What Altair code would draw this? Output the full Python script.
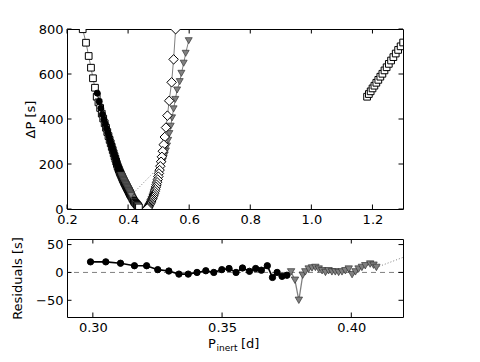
import altair as alt
import pandas as pd

# ---------------- data ----------------
# open squares, left branch
sq_P = [0.2514, 0.2622, 0.2710, 0.2785, 0.2850, 0.2916, 0.2972, 0.3030, 0.3085, 0.3137,
        0.3186, 0.3233, 0.3277, 0.3319, 0.3358, 0.3396, 0.3431, 0.3465, 0.3497, 0.3527,
        0.3556, 0.3583, 0.3609, 0.3633, 0.3656, 0.3678, 0.3699, 0.3719, 0.3738, 0.3757,
        0.3775, 0.3792, 0.3809, 0.3825, 0.3840, 0.3855, 0.3870, 0.3884, 0.3898, 0.3911,
        0.3924, 0.3936, 0.3948, 0.3960, 0.3971, 0.3982, 0.3993, 0.4003, 0.4013, 0.4023,
        0.4032, 0.4041, 0.4050, 0.4059, 0.4067, 0.4075, 0.4083, 0.4097, 0.4116, 0.4140,
        0.4165, 0.4190, 0.4215, 0.4240, 0.4265, 0.4290, 0.4310, 0.4332, 0.4355]
sq_dP = [799, 739, 680, 628, 581, 539, 499, 474, 449, 424,
         402, 381, 361, 342, 324, 307, 292, 276, 262, 248,
         235, 223, 211, 200, 190, 182, 175, 168, 161, 156,
         150, 145, 139, 134, 130, 126, 121, 117, 114, 110,
         107, 103, 100, 97, 94, 91, 88, 86, 83, 80,
         78, 75, 73, 70, 68, 66, 64, 60, 55, 48,
         42, 36, 31, 27, 23, 19, 16, 12, 7]
# open squares, right branch
sqr_P = [1.1824, 1.1882, 1.1941, 1.2002, 1.2064, 1.2127, 1.2192, 1.2258, 1.2325,
         1.2394, 1.2464, 1.2536, 1.2610, 1.2685, 1.2762, 1.2841, 1.2922, 1.3005]
sqr_dP = [499, 511, 523, 536, 548, 561, 574, 588, 601,
          616, 630, 645, 660, 675, 691, 707, 723, 740]

# filled circles
ci_P = [0.2991, 0.3050, 0.3107, 0.3161, 0.3208, 0.3251, 0.3294, 0.3333, 0.3369, 0.3403,
        0.3437, 0.3468, 0.3499, 0.3527, 0.3554, 0.3579, 0.3606, 0.3630, 0.3652, 0.3675,
        0.3695, 0.3713, 0.3732, 0.3751]
ci_dP = [515, 478, 448, 421, 399, 379, 359, 341, 325, 309,
         294, 280, 266, 253, 241, 230, 218, 207, 198, 189,
         181, 175, 168, 162]
ci_res = [19, 19, 16.5, 12, 12, 5, 2.5, -3, -3, 0,
          3, 0, 5, 7, 0, 8, 2, 7, 4, 12,
          -9, 0, -7, -5]

# grey triangles, first sequence
tr_P = [0.3767, 0.3782, 0.3797, 0.3812, 0.3822, 0.3835, 0.3848, 0.3861, 0.3874, 0.3887,
        0.3900, 0.3912, 0.3925, 0.3938, 0.3951, 0.3964, 0.3977, 0.3990, 0.4003, 0.4016,
        0.4028, 0.4041, 0.4054, 0.4073, 0.4086, 0.4097]
tr_dP = [150, 145, 141, 137, 134, 131, 127, 124, 120, 117,
         113, 110, 107, 103, 100, 96, 93, 89, 86, 82,
         79, 75, 72, 67, 63, 60]
tr_res = [1, -14, -50, -5, 1, 6, 8, 9, 6, 3,
          0, 3, 1, 1, 0, 1, 3, 6, -4, 1,
          6, 9, 12, 15, 13, 9]
# grey triangles, second sequence
tr2_P = [0.5105, 0.5135, 0.5165, 0.5200, 0.5238, 0.5275, 0.5312, 0.5352, 0.5395,
         0.5440, 0.5490, 0.5545, 0.5605, 0.5690, 0.5745, 0.5820, 0.5885, 0.5985]
tr2_dP = [200, 212, 226, 240, 258, 280, 305, 335, 368,
          405, 445, 487, 529, 566, 603, 648, 692, 748]
# dotted link across the gap between the two triangle sequences
gap_P = [0.4097, 0.5105]
gap_dP = [60, 200]
gap_res = [9, 185]

# open diamonds
di_P = [0.5556, 0.5490, 0.5425, 0.5345, 0.5287, 0.5240, 0.5200, 0.5166, 0.5135, 0.5107,
        0.5080, 0.5055, 0.5032, 0.5010, 0.4990, 0.4970, 0.4950, 0.4931, 0.4912, 0.4893,
        0.4874, 0.4855, 0.4836, 0.4817, 0.4798, 0.4779, 0.4760, 0.4741, 0.4722, 0.4704,
        0.4687, 0.4671, 0.4656, 0.4642, 0.4630]
di_dP = [799, 665, 563, 481, 415, 362, 320, 286, 257, 232,
         210, 190, 173, 158, 144, 131, 119, 108, 98, 88,
         79, 70, 62, 55, 48, 42, 36, 30, 25, 20,
         16, 12, 8, 5, 2]

top_xticks = [0.2, 0.4, 0.6, 0.8, 1.0, 1.2]
top_yticks = [0, 200, 400, 600, 800]
bot_xticks = [0.30, 0.35, 0.40]
bot_yticks = [-50, 0, 50]
zero_line = [0]
xtitle_main = ["P"]
xtitle_sub = ["inert"]
xtitle_unit = ["[d]"]

# ---------------- tables ----------------
squares = pd.DataFrame({
    "P": sq_P + sqr_P, "dP": sq_dP + sqr_dP,
    "branch": ["left"] * len(sq_P) + ["right"] * len(sqr_P)})
circles = pd.DataFrame({"P": ci_P, "dP": ci_dP, "res": ci_res})
tri = pd.DataFrame({
    "P": tr_P + tr2_P, "dP": tr_dP + tr2_dP,
    "seq": ["a"] * len(tr_P) + ["b"] * len(tr2_P)})
tri_res = pd.DataFrame({"P": tr_P, "res": tr_res})
gap = pd.DataFrame({"P": gap_P, "dP": gap_dP, "res": gap_res})
diamonds = pd.DataFrame({"P": di_P, "dP": di_dP})

W = 336
H_TOP = 180
H_BOT = 78
TICK = 4.5
GREY = "#808080"
FONT = "DejaVu Sans"

# ---------------- top panel ----------------
xt = alt.X("P:Q", scale=alt.Scale(domain=[0.2, 1.3], nice=False, zero=False),
           axis=alt.Axis(values=top_xticks, format=".1f", title=None))
yt = alt.Y("dP:Q", scale=alt.Scale(domain=[0, 800], nice=False, zero=False),
           axis=alt.Axis(values=top_yticks, format="d", title="ΔP [s]", titlePadding=1))

txd = pd.DataFrame({"P": top_xticks})
tyd = pd.DataFrame({"dP": top_yticks})
top_ticks = [
    alt.Chart(txd).mark_rule(color="black", strokeWidth=1).encode(
        x=xt, y=alt.value(H_TOP), y2=alt.value(H_TOP - TICK)),
    alt.Chart(txd).mark_rule(color="black", strokeWidth=1).encode(
        x=xt, y=alt.value(0), y2=alt.value(TICK)),
    alt.Chart(tyd).mark_rule(color="black", strokeWidth=1).encode(
        y=yt, x=alt.value(0), x2=alt.value(TICK)),
    alt.Chart(tyd).mark_rule(color="black", strokeWidth=1).encode(
        y=yt, x=alt.value(W), x2=alt.value(W - TICK)),
]

sq_line = alt.Chart(squares).mark_line(color=GREY, strokeWidth=1, clip=True).encode(
    x=xt, y=yt, detail="branch:N", order="P:Q")
sq_pts = alt.Chart(squares).mark_point(
    shape="square", size=45, filled=True, fill="white", stroke="black",
    strokeWidth=1, opacity=1, clip=True).encode(x=xt, y=yt)
ci_line = alt.Chart(circles).mark_line(color="black", strokeWidth=1, clip=True).encode(
    x=xt, y=yt, order="P:Q")
ci_pts = alt.Chart(circles).mark_point(
    shape="circle", size=36, filled=True, fill="black", stroke="black",
    strokeWidth=1, opacity=1, clip=True).encode(x=xt, y=yt)
tr_line = alt.Chart(tri).mark_line(color=GREY, strokeWidth=1, clip=True).encode(
    x=xt, y=yt, detail="seq:N", order="P:Q")
gap_line = alt.Chart(gap).mark_line(color=GREY, strokeWidth=1, strokeDash=[1, 2],
                                    clip=True).encode(x=xt, y=yt)
tr_pts = alt.Chart(tri).mark_point(
    shape="triangle-down", size=49, filled=True, fill=GREY, stroke="#333333",
    strokeWidth=0.7, opacity=1, clip=True).encode(x=xt, y=yt)
di_line = alt.Chart(diamonds).mark_line(color=GREY, strokeWidth=1, clip=True).encode(
    x=xt, y=yt, order="P:Q")
di_pts = alt.Chart(diamonds).mark_point(
    shape="diamond", size=90, filled=True, fill="white", stroke="black",
    strokeWidth=1, opacity=1, clip=True).encode(x=xt, y=yt)

top = alt.layer(
    sq_line, sq_pts, ci_line, ci_pts, tr_line, gap_line, tr_pts, di_line, di_pts,
    *top_ticks
).properties(width=W, height=H_TOP)

# ---------------- bottom panel ----------------
xb = alt.X("P:Q", scale=alt.Scale(domain=[0.29, 0.42], nice=False, zero=False),
           axis=alt.Axis(values=bot_xticks, format=".2f", title=None))
yb = alt.Y("res:Q", scale=alt.Scale(domain=[-80, 60], nice=False, zero=False),
           axis=alt.Axis(values=bot_yticks, format="d", title="Residuals [s]",
                         titlePadding=11))

bxd = pd.DataFrame({"P": bot_xticks})
byd = pd.DataFrame({"res": bot_yticks})
bot_ticks = [
    alt.Chart(bxd).mark_rule(color="black", strokeWidth=1).encode(
        x=xb, y=alt.value(H_BOT), y2=alt.value(H_BOT - TICK)),
    alt.Chart(bxd).mark_rule(color="black", strokeWidth=1).encode(
        x=xb, y=alt.value(0), y2=alt.value(TICK)),
    alt.Chart(byd).mark_rule(color="black", strokeWidth=1).encode(
        y=yb, x=alt.value(0), x2=alt.value(TICK)),
    alt.Chart(byd).mark_rule(color="black", strokeWidth=1).encode(
        y=yb, x=alt.value(W), x2=alt.value(W - TICK)),
]

zero = alt.Chart(pd.DataFrame({"res": zero_line})).mark_rule(
    color=GREY, strokeWidth=1, strokeDash=[5, 4]).encode(y=yb)
b_ci_line = alt.Chart(circles).mark_line(color="black", strokeWidth=1.6, clip=True).encode(
    x=xb, y=yb, order="P:Q")
b_ci_pts = alt.Chart(circles).mark_point(
    shape="circle", size=40, filled=True, fill="black", stroke="black",
    strokeWidth=1, opacity=1, clip=True).encode(x=xb, y=yb)
b_tr_line = alt.Chart(tri_res).mark_line(color=GREY, strokeWidth=1.3, clip=True).encode(
    x=xb, y=yb, order="P:Q")
b_gap = alt.Chart(gap).mark_line(color=GREY, strokeWidth=1, strokeDash=[1, 2],
                                 clip=True).encode(x=xb, y=yb)
b_tr_pts = alt.Chart(tri_res).mark_point(
    shape="triangle-down", size=55, filled=True, fill=GREY, stroke="#333333",
    strokeWidth=0.7, opacity=1, clip=True).encode(x=xb, y=yb)

t_main = alt.Chart(pd.DataFrame({"t": xtitle_main})).mark_text(
    font=FONT, fontSize=13, align="left", baseline="alphabetic", color="black").encode(
    text="t:N", x=alt.value(141), y=alt.value(109))
t_sub = alt.Chart(pd.DataFrame({"t": xtitle_sub})).mark_text(
    font=FONT, fontSize=9, align="left", baseline="alphabetic", color="black").encode(
    text="t:N", x=alt.value(149.5), y=alt.value(112))
t_unit = alt.Chart(pd.DataFrame({"t": xtitle_unit})).mark_text(
    font=FONT, fontSize=13, align="left", baseline="alphabetic", color="black").encode(
    text="t:N", x=alt.value(174), y=alt.value(109))

bot = alt.layer(
    zero, b_ci_line, b_ci_pts, b_tr_line, b_gap, b_tr_pts, *bot_ticks,
    t_main, t_sub, t_unit
).properties(width=W, height=H_BOT)

chart = alt.vconcat(top, bot, spacing=9).properties(
    padding={"left": 3, "top": 14, "right": 0, "bottom": 0},
    background="white"
).configure_view(
    stroke="black", strokeWidth=1
).configure_axis(
    domain=False, ticks=False, grid=False, labelPadding=4,
    labelFont=FONT, labelFontSize=13, labelColor="black",
    labelOverlap=False, labelFlush=False,
    titleFont=FONT, titleFontSize=13, titleFontWeight="normal", titleColor="black"
)

chart.save("out.html", embed_options={"renderer": "svg", "actions": False})
